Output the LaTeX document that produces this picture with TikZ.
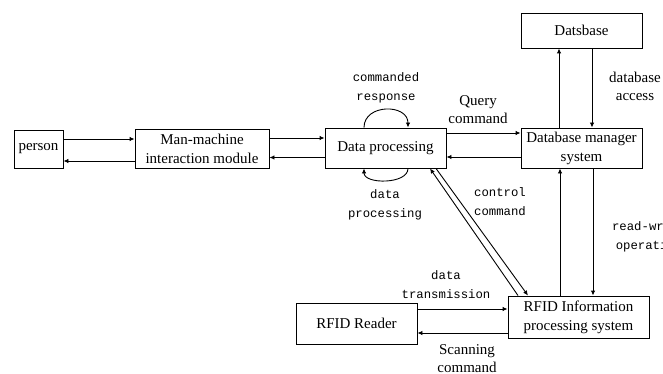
\documentclass[tikz,border=0pt]{standalone}
\usepackage{fontspec}
\setmainfont{Liberation Serif}
\newfontfamily\codefont{Liberation Mono}
\usetikzlibrary{arrows.meta}
\begin{document}
\begin{tikzpicture}[x=1pt,y=-1pt,
  box/.style={draw,line width=0.9pt,inner sep=0pt,align=center,font=\fontsize{15}{19}\selectfont},
  arr/.style={line width=0.9pt,-{Latex[length=5pt,width=4.5pt]}},
  serif/.style={align=center,inner sep=0pt,font=\fontsize{15}{18}\selectfont},
  mono/.style={align=center,inner sep=0pt,font=\codefont\fontsize{12.3}{19}\selectfont}]
\useasboundingbox (0,0) rectangle (663,374);

% blocks
\node[box,minimum width=49pt,minimum height=38pt] (person) at (38.5,149) {person};
\node[box,minimum width=134pt,minimum height=39pt] (mm) at (202,148.5) {Man-machine\\interaction module};
\node[box,minimum width=121pt,minimum height=40pt] (dp) at (385.5,148) {Data processing};
\node[box,minimum width=121pt,minimum height=40pt] (dbm) at (581.5,148) {Database manager\\system};
\node[box,minimum width=121pt,minimum height=35pt] (db) at (581.5,30.5) {Datsbase};
\node[box,minimum width=121pt,minimum height=41pt] (reader) at (356.5,323.5) {RFID Reader};
\node[box,minimum width=141pt,minimum height=42pt] (info) at (578.5,317) {RFID Information\\processing system};

% person <-> man-machine module
\draw[arr] ([yshift=10pt]person.east) -- ([yshift=9.5pt]mm.west);
\draw[arr] ([yshift=-12.5pt]mm.west) -- ([yshift=-12pt]person.east);

% man-machine module <-> data processing
\draw[arr] ([yshift=10.5pt]mm.east) -- ([yshift=10pt]dp.west);
\draw[arr] ([yshift=-9.5pt]dp.west) -- ([yshift=-9pt]mm.east);

% data processing <-> database manager
\draw[arr] ([yshift=15pt]dp.east) -- ([yshift=15pt]dbm.west);
\draw[arr] ([yshift=-9pt]dbm.west) -- ([yshift=-9pt]dp.east);

% database manager <-> database
\draw[arr] ([xshift=-22.5pt]dbm.north) -- ([xshift=-22.5pt]db.south);
\draw[arr] ([xshift=10.5pt]db.south) -- ([xshift=10.5pt]dbm.north);

% RFID information system <-> database manager
\draw[arr] ([xshift=-18.5pt]info.north) -- ([xshift=-21.5pt]dbm.south);
\draw[arr] ([xshift=11.5pt]dbm.south) -- ([xshift=14.5pt]info.north);

% RFID information system <-> data processing (control)
\draw[arr] ([xshift=-60.5pt]info.north) -- ([xshift=44.5pt]dp.south);
\draw[arr] ([xshift=50.5pt]dp.south) -- ([xshift=-50.5pt]info.north);

% RFID reader <-> RFID information system
\draw[arr] ([yshift=14.5pt]reader.east) -- ([yshift=8pt]info.west);
\draw[arr] ([yshift=-16pt]info.west) -- ([yshift=-9.5pt]reader.east);

% self loops on data processing
\draw[arr] ([xshift=-21.5pt]dp.north) .. controls +(0,-24) and +(0,-24) .. ([xshift=22.5pt]dp.north);
\draw[arr] ([xshift=22.5pt]dp.south) .. controls +(0,16) and +(0,16) .. ([xshift=-21.5pt]dp.south);

% labels
\node[mono] (lresp) at (386,87.5) {commanded\\response};
\node[serif] (lquery) at (478,110) {Query\\command};
\node[mono] (lproc) at (385,205) {data\\processing};
\node[mono] (lctrl) at (500,202) {control\\command};
\node[serif] (lacc) at (635,86) {database\\access};
\node[mono] (lrw) at (649,237) {read-write\\operation};
\node[mono] (ltrans) at (446,285) {data\\transmission};
\node[serif] (lscan) at (467,359) {Scanning\\command};
\end{tikzpicture}
\end{document}
